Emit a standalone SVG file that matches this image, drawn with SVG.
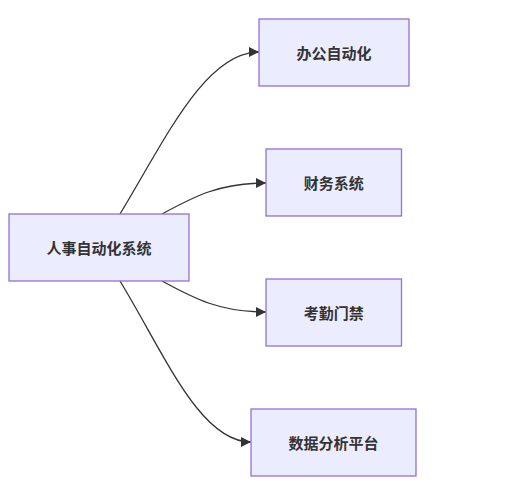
<svg xmlns="http://www.w3.org/2000/svg" width="529" height="488" viewBox="0 0 529 488">
<style>
.node rect{fill:#ECECFF;stroke:#9370DB;stroke-width:1.3px;}
.node text{font-family:"Noto Sans CJK SC","Noto Sans",sans-serif;font-size:15px;fill:#333;text-anchor:middle;dominant-baseline:central;font-weight:bold;}
.edge{fill:none;stroke:#333;stroke-width:1.3px;marker-end:url(#arrow);}
</style>
<defs>
<marker id="arrow" viewBox="0 0 10 10" refX="10" refY="5" markerWidth="10.5" markerHeight="10" markerUnits="userSpaceOnUse" orient="auto">
<path d="M0,0 L10,5 L0,10 z" fill="#333"/>
</marker>
</defs>
<rect width="529" height="488" fill="#fff"/>
<g id="connectors">
<path class="edge" d="M120,214 C165,140 205,52 259,52"/>
<path class="edge" d="M162,214 C195,196 220,183 266,183"/>
<path class="edge" d="M162,281 C195,299 220,312 266,312"/>
<path class="edge" d="M120,281 C165,355 200,442 251,442"/>
</g>
<g id="n-hr" class="node"><rect x="9" y="214" width="180" height="67"/><text x="99" y="247.5">人事自动化系统</text></g>
<g id="n-oa" class="node"><rect x="259" y="19" width="150" height="67"/><text x="334" y="52.5">办公自动化</text></g>
<g id="n-fin" class="node"><rect x="266" y="149" width="135.5" height="67"/><text x="333.75" y="182.5">财务系统</text></g>
<g id="n-att" class="node"><rect x="266" y="279" width="135.5" height="67"/><text x="333.75" y="312.5">考勤门禁</text></g>
<g id="n-data" class="node"><rect x="251" y="409" width="165" height="67"/><text x="333.5" y="442.5">数据分析平台</text></g>
</svg>
